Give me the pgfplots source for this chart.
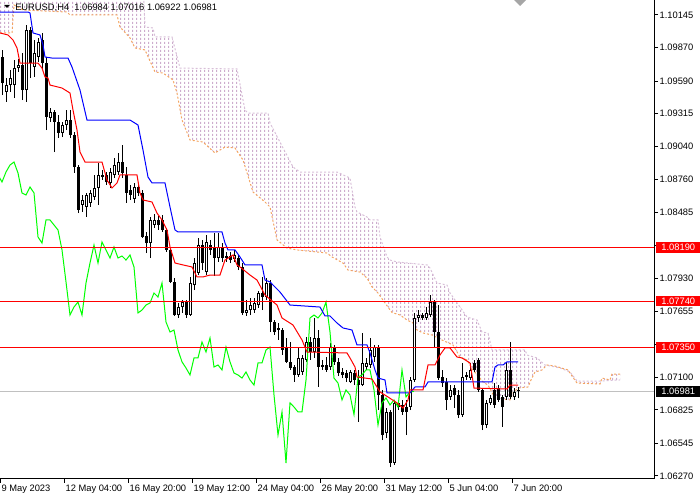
\documentclass[border=0pt]{standalone}
\usepackage{pgfplots}
\pgfplotsset{compat=1.18}
\usepackage{pgfplotstable}
\usepgfplotslibrary{fillbetween}
\usetikzlibrary{patterns}
\usepackage{fontspec}
\setmainfont{Liberation Sans}
\definecolor{thistleC}{RGB}{205,172,205}
\definecolor{thistleL}{RGB}{216,191,216}
\definecolor{sandy}{RGB}{244,164,96}
\definecolor{limeC}{RGB}{0,255,0}
\definecolor{redC}{RGB}{255,0,0}
\definecolor{blueC}{RGB}{0,0,255}
\definecolor{bidgray}{RGB}{192,192,192}
\pgfdeclarepatternformonly{vdash}{\pgfpointorigin}{\pgfqpoint{3pt}{3pt}}{\pgfqpoint{3pt}{3pt}}{%
  \pgfpathrectangle{\pgfqpoint{1.125pt}{0pt}}{\pgfqpoint{0.75pt}{2.1pt}}\pgfusepath{fill}}

\pgfplotstableread{
x o h l c
0 1.09792 1.09851 1.09472 1.09573
1 1.09498 1.09615 1.09414 1.09556
2 1.09556 1.09683 1.09498 1.09615
3 1.09556 1.09767 1.09447 1.09699
4 1.09699 1.09775 1.09666 1.09725
5 1.09725 1.09826 1.09430 1.09514
6 1.09514 1.10061 1.09414 1.10019
7 1.10019 1.10044 1.09615 1.09741
8 1.09708 1.09935 1.09624 1.09826
9 1.09792 1.09952 1.09750 1.09918
10 1.09935 1.09994 1.09683 1.09741
11 1.09741 1.09792 1.09178 1.09288
12 1.09279 1.09363 1.09246 1.09330
13 1.09330 1.09346 1.08993 1.09246
14 1.09246 1.09304 1.09111 1.09153
15 1.09153 1.09246 1.09119 1.09220
16 1.09220 1.09346 1.09178 1.09262
17 1.09262 1.09346 1.09111 1.09136
18 1.09136 1.09161 1.08817 1.08867
19 1.08867 1.08884 1.08480 1.08506
20 1.08548 1.08632 1.08489 1.08590
21 1.08531 1.08649 1.08447 1.08632
22 1.08565 1.08674 1.08531 1.08649
23 1.08615 1.08800 1.08590 1.08691
24 1.08691 1.08901 1.08548 1.08800
25 1.08783 1.08842 1.08758 1.08800
26 1.08800 1.08825 1.08716 1.08741
27 1.08733 1.08859 1.08691 1.08825
28 1.08800 1.08943 1.08774 1.08884
29 1.08825 1.08985 1.08800 1.08909
30 1.08909 1.09052 1.08774 1.08817
31 1.08800 1.08867 1.08565 1.08649
32 1.08674 1.08716 1.08590 1.08632
33 1.08598 1.08733 1.08565 1.08699
34 1.08699 1.08733 1.08623 1.08649
35 1.08649 1.08674 1.08270 1.08279
36 1.08287 1.08321 1.08144 1.08228
37 1.08228 1.08447 1.08102 1.08422
38 1.08380 1.08472 1.08354 1.08422
39 1.08422 1.08455 1.08338 1.08380
40 1.08422 1.08463 1.08321 1.08338
41 1.08338 1.08354 1.08153 1.08170
42 1.08170 1.08186 1.07892 1.07901
43 1.07901 1.07934 1.07615 1.07623
44 1.07623 1.07724 1.07598 1.07690
45 1.07690 1.07749 1.07644 1.07732
46 1.07732 1.07749 1.07598 1.07623
47 1.07623 1.07942 1.07615 1.07892
48 1.07875 1.08102 1.07833 1.08060
49 1.07976 1.08270 1.07959 1.08212
50 1.08212 1.08254 1.08001 1.08060
51 1.07984 1.08296 1.07959 1.08237
52 1.08212 1.08254 1.08128 1.08170
53 1.08195 1.08312 1.07951 1.08102
54 1.08102 1.08312 1.08069 1.08195
55 1.08195 1.08228 1.08069 1.08102
56 1.08102 1.08153 1.08069 1.08119
57 1.08119 1.08153 1.08060 1.08085
58 1.08093 1.08170 1.08069 1.08128
59 1.08102 1.08128 1.08001 1.08027
60 1.08027 1.08060 1.07623 1.07640
61 1.07640 1.07749 1.07615 1.07665
62 1.07665 1.07766 1.07623 1.07707
63 1.07665 1.07766 1.07644 1.07724
64 1.07707 1.07825 1.07682 1.07808
65 1.07808 1.07942 1.07665 1.07774
66 1.07774 1.07934 1.07749 1.07892
67 1.07892 1.07917 1.07480 1.07564
68 1.07564 1.07581 1.07455 1.07480
69 1.07514 1.07556 1.07413 1.07497
70 1.07497 1.07514 1.07288 1.07329
71 1.07346 1.07430 1.07220 1.07229
72 1.07229 1.07396 1.07161 1.07178
73 1.07186 1.07203 1.07060 1.07119
74 1.07119 1.07346 1.07102 1.07262
75 1.07144 1.07288 1.07119 1.07262
76 1.07245 1.07438 1.07229 1.07396
77 1.07396 1.07438 1.07245 1.07312
78 1.07312 1.07598 1.07262 1.07430
79 1.07430 1.07497 1.07018 1.07186
80 1.07186 1.07245 1.07161 1.07203
81 1.07203 1.07271 1.07144 1.07161
82 1.07186 1.07388 1.07161 1.07354
83 1.07354 1.07371 1.07203 1.07229
84 1.07229 1.07262 1.07110 1.07136
85 1.07144 1.07178 1.07093 1.07119
86 1.07136 1.07161 1.07060 1.07093
87 1.07060 1.07161 1.07051 1.07144
88 1.07136 1.07161 1.07034 1.07077
89 1.07077 1.07161 1.06724 1.07034
90 1.07034 1.07471 1.07026 1.07220
91 1.07186 1.07262 1.07161 1.07220
92 1.07203 1.07430 1.07178 1.07329
93 1.07270 1.07371 1.07229 1.07354
94 1.07354 1.07371 1.06824 1.06951
95 1.06951 1.06993 1.06572 1.06614
96 1.06631 1.06841 1.06589 1.06808
97 1.06808 1.06824 1.06346 1.06379
98 1.06379 1.06909 1.06363 1.06884
99 1.06884 1.06909 1.06824 1.06850
100 1.06867 1.06909 1.06786 1.06808
101 1.06850 1.06909 1.06614 1.06808
102 1.06850 1.07102 1.06824 1.07077
103 1.07077 1.07640 1.07060 1.07598
104 1.07598 1.07665 1.07564 1.07623
105 1.07623 1.07640 1.07581 1.07598
106 1.07598 1.07690 1.07581 1.07640
107 1.07623 1.07791 1.07606 1.07732
108 1.07732 1.07749 1.07346 1.07480
109 1.07480 1.07707 1.07077 1.07093
110 1.07102 1.07161 1.07018 1.07051
111 1.07060 1.07093 1.06824 1.06909
112 1.06934 1.07034 1.06909 1.06993
113 1.07009 1.07034 1.06841 1.06951
114 1.06951 1.06993 1.06757 1.06786
115 1.06786 1.07220 1.06766 1.07102
116 1.07102 1.07144 1.07077 1.07119
117 1.07093 1.07220 1.07077 1.07161
118 1.07220 1.07245 1.07144 1.07161
119 1.07245 1.07262 1.06976 1.06993
120 1.06993 1.07009 1.06656 1.06698
121 1.06698 1.06909 1.06673 1.06884
122 1.06884 1.06951 1.06867 1.06926
123 1.06993 1.07051 1.06841 1.06867
124 1.07009 1.07034 1.06892 1.06909
125 1.06934 1.06951 1.06682 1.06850
126 1.06934 1.07229 1.06909 1.07161
127 1.07161 1.07396 1.06917 1.06934
128 1.06934 1.07009 1.06909 1.06976
129 1.06984 1.07016 1.06922 1.06981
}\candles

\pgfplotstableread{
x y
-0.5 1.09994
1.5 1.09977
2.75 1.09935
3.75 1.09868
4.5 1.09741
9 1.09741
10 1.09699
10.75 1.09624
11.5 1.09615
12 1.09556
15 1.09531
17 1.09489
17.75 1.09346
18.75 1.09178
19.5 1.08993
20.75 1.08909
25 1.08909
26.25 1.08758
27.5 1.08691
28.75 1.08733
29.5 1.08800
33.75 1.08800
34.5 1.08649
35.25 1.08590
37.5 1.08573
38.75 1.08480
40 1.08422
41.25 1.08338
42 1.08195
43.25 1.08060
45.25 1.08044
47.5 1.08027
48.75 1.07943
50.25 1.07943
52 1.07959
54.5 1.07959
55.75 1.08085
57 1.08111
57.75 1.08128
58.75 1.08044
59.5 1.08027
62 1.07959
63.75 1.07917
65.75 1.07791
68.75 1.07707
70 1.07598
72.75 1.07539
75 1.07413
76.25 1.07312
86.25 1.07304
87 1.07262
88.25 1.07186
88.75 1.07102
92.5 1.07085
93.75 1.07018
94.5 1.06976
96.5 1.06934
98.75 1.06884
100.25 1.06841
101.5 1.06909
102 1.06993
105.25 1.06993
106.5 1.07203
108.25 1.07203
109.5 1.07287
110.75 1.07346
112 1.07346
113.75 1.07270
115 1.07262
117 1.07220
117.5 1.07119
118 1.07009
126.25 1.07001
127 1.07034
129 1.07034
}\tenkan

\pgfplotstableread{
x y
-0.5 1.10170
6.5 1.10170
7 1.10162
7.75 1.09994
9.5 1.09977
10.25 1.09893
10.75 1.09792
12.5 1.09783
16.5 1.09783
17.5 1.09708
19.5 1.09514
21.25 1.09262
32 1.09262
34 1.09220
35.25 1.09010
36.5 1.08783
37.5 1.08733
40.75 1.08733
42 1.08531
43.25 1.08338
44 1.08321
55 1.08321
55.75 1.08228
56.5 1.08170
58.25 1.08170
59.5 1.08111
60.75 1.08044
65 1.08044
65.75 1.07917
67 1.07901
69.5 1.07816
72 1.07707
79.5 1.07690
80.75 1.07615
82 1.07615
83.75 1.07556
85.25 1.07514
87.5 1.07497
88.75 1.07371
91.25 1.07371
92 1.07304
93.25 1.07161
94 1.07093
95.75 1.07077
96.25 1.06968
102 1.06968
103.25 1.07018
105.75 1.07018
106.5 1.07060
122.5 1.07060
123.25 1.07186
124 1.07203
125.25 1.07203
126.25 1.07229
129 1.07229
}\kijun

\pgfplotstableread{
x y
-0.5 1.09994
2.5 1.09994
3 1.10229
5.25 1.10187
16.25 1.10170
17 1.10145
28.75 1.10145
29.5 1.10044
32 1.09952
33.25 1.09868
35.75 1.09851
38.25 1.09666
40.25 1.09657
42.75 1.09599
43.75 1.09489
45 1.09262
47 1.09094
50.25 1.09077
53.25 1.08985
55.75 1.09035
58.25 1.09027
60.25 1.08926
62.75 1.08657
65.75 1.08573
67 1.08531
68.75 1.08254
71.25 1.08186
73.75 1.08170
81.25 1.08144
82.5 1.08111
85.25 1.08060
86.5 1.08001
89.5 1.07984
91.25 1.07934
92.5 1.07859
94 1.07808
95.75 1.07724
97.5 1.07644
99.5 1.07623
101.25 1.07581
102.75 1.07556
103.75 1.07497
105.25 1.07472
107.5 1.07455
110 1.07413
112.75 1.07371
114.5 1.07270
116.25 1.07245
117.75 1.07161
120.25 1.07060
121.5 1.07034
123.25 1.06926
127 1.06909
127.75 1.06968
129 1.07009
131.5 1.07018
132.25 1.07077
133.25 1.07144
135 1.07161
136.25 1.07203
138.25 1.07194
141.5 1.07161
142.5 1.07110
143.75 1.07051
149.5 1.07043
150 1.07093
152 1.07077
152.5 1.07127
154.5 1.07127
}\senA

\pgfplotstableread{
x y
-0.5 1.10439
35.25 1.10439
35.75 1.10044
37.75 1.10036
38.25 1.09960
42.5 1.09960
44.5 1.09699
58.75 1.09691
60.75 1.09346
61.5 1.09321
66.5 1.09321
67 1.09237
72.75 1.08867
74.5 1.08825
83.75 1.08825
87 1.08774
88.25 1.08531
88.75 1.08489
91.25 1.08447
92 1.08422
94 1.08422
94.5 1.08279
96.25 1.08111
97 1.08085
98.75 1.08069
106.25 1.08044
107 1.08018
108.75 1.07892
111.25 1.07875
112 1.07808
114.5 1.07690
116.25 1.07606
118.75 1.07581
120 1.07480
121.5 1.07472
122.5 1.07329
130.75 1.07329
131.25 1.07287
133.75 1.07262
135.75 1.07203
139.5 1.07178
142 1.07144
143.75 1.07068
149.5 1.07068
154.5 1.07077
}\senB

\begin{document}
\begin{tikzpicture}
\begin{axis}[
  at={(0pt,15.75pt)}, anchor=south west,
  scale only axis, width=490.5pt, height=359.25pt,
  xmin=-0.5, xmax=163, ymin=1.062445, ymax=1.10271,
  axis x line*=bottom, axis y line*=right,
  axis line style={black, line width=0.75pt},
  tick style={black, line width=0.75pt},
  tick align=outside, major tick length=3pt,
  xtick={-0.5,15.5,31.5,47.5,63.5,79.5,95.5,111.5,127.5},
  xticklabels={9 May 2023,12 May 04:00,16 May 20:00,19 May 12:00,24 May 04:00,26 May 20:00,31 May 12:00,5 Jun 04:00,7 Jun 20:00},
  ytick={1.10145,1.09870,1.09590,1.09315,1.09040,1.08760,1.08485,1.08210,1.07930,1.07655,1.07375,1.07100,1.06825,1.06545,1.06270},
  yticklabels={1.10145,1.09870,1.09590,1.09315,1.09040,1.08760,1.08485,{},1.07930,1.07655,{},1.07100,1.06825,1.06545,1.06270},
  scaled y ticks=false,
  tick label style={font=\fontsize{7}{8}\selectfont, text=black},
  xticklabel style={anchor=north west, inner sep=1pt},
  yticklabel style={anchor=west, inner sep=1pt},
  clip mode=individual,
]
% Ichimoku cloud
\addplot[name path=SA, draw=none, forget plot] table[x=x,y=y]{\senA};
\addplot[name path=SB, draw=none, forget plot] table[x=x,y=y]{\senB};
\addplot[pattern=vdash, pattern color=thistleC, draw=none, forget plot] fill between[of=SB and SA];
\addplot[thistleL, line width=0.75pt, dash pattern=on 1.5pt off 1.5pt, forget plot] table[x=x,y=y]{\senB};
\addplot[sandy, line width=0.75pt, dash pattern=on 1.5pt off 1.5pt, forget plot] table[x=x,y=y]{\senA};
% bid line
\addplot[bidgray, line width=0.75pt, forget plot] coordinates {(-0.5,1.06981) (163,1.06981)};
% candles: wicks
\addplot[draw=none, mark=none, forget plot, error bars/.cd, y dir=plus, y explicit, error mark=none,
  error bar style={draw=black, line width=0.75pt}]
  table[x=x, y=l, y error expr={\thisrow{h}-\thisrow{l}}]{\candles};
% bodies
\addplot[draw=none, mark=none, forget plot, error bars/.cd, y dir=plus, y explicit, error mark=none,
  error bar style={draw=black, line width=2.25pt}]
  table[x=x, y expr={min(\thisrow{o},\thisrow{c})}, y error expr={max(abs(\thisrow{c}-\thisrow{o}),0.00009)}]{\candles};
% white interiors of rising candles
\addplot[draw=none, mark=none, forget plot,
  restrict expr to domain={\thisrow{c}-\thisrow{o}}{0.0002:1},
  error bars/.cd, y dir=plus, y explicit, error mark=none,
  error bar style={draw=white, line width=0.75pt}]
  table[x=x, y expr={\thisrow{o}+0.000084}, y error expr={\thisrow{c}-\thisrow{o}-0.000168}]{\candles};
% lines
\addplot[limeC, line width=0.75pt, forget plot] table[x expr={\thisrow{x}-26}, y=c]{\candles};
\addplot[blueC, line width=0.75pt, forget plot] table[x=x,y=y]{\kijun};
\addplot[redC, line width=0.75pt, forget plot] table[x=x,y=y]{\tenkan};
% horizontal levels
\addplot[redC, line width=0.75pt, forget plot] coordinates {(-0.5,1.08190) (163,1.08190)};
\addplot[redC, line width=0.75pt, forget plot] coordinates {(-0.5,1.07740) (163,1.07740)};
\addplot[redC, line width=0.75pt, forget plot] coordinates {(-0.5,1.07350) (163,1.07350)};
% price boxes
\node[fill=redC, text=white, anchor=west, inner sep=0pt, minimum width=33pt, minimum height=7.8pt, font=\fontsize{7}{8}\selectfont, xshift=1.5pt] at (axis cs:163,1.08190) {1.08190};
\node[fill=redC, text=white, anchor=west, inner sep=0pt, minimum width=33pt, minimum height=7.8pt, font=\fontsize{7}{8}\selectfont, xshift=1.5pt] at (axis cs:163,1.07740) {1.07740};
\node[fill=redC, text=white, anchor=west, inner sep=0pt, minimum width=33pt, minimum height=7.8pt, font=\fontsize{7}{8}\selectfont, xshift=1.5pt] at (axis cs:163,1.07350) {1.07350};
\node[fill=black, text=white, anchor=west, inner sep=0pt, minimum width=33pt, minimum height=7.8pt, font=\fontsize{7}{8}\selectfont, xshift=1.5pt] at (axis cs:163,1.06981) {1.06981};
\end{axis}
% header
\fill[black] (3pt,371.25pt) -- (7.5pt,371.25pt) -- (5.25pt,369pt) -- cycle;
\node[anchor=base west, inner sep=0pt, font=\fontsize{7}{8}\selectfont] at (11.25pt,366.9pt) {EURUSD,H4\ \ 1.06984 1.07016 1.06922 1.06981};
\fill[gray!70] (385.5pt,375pt) -- (394.5pt,375pt) -- (390pt,370.5pt) -- cycle;
\pgfresetboundingbox
\useasboundingbox (0pt,0pt) rectangle (525pt,375pt);
\end{tikzpicture}
\end{document}
